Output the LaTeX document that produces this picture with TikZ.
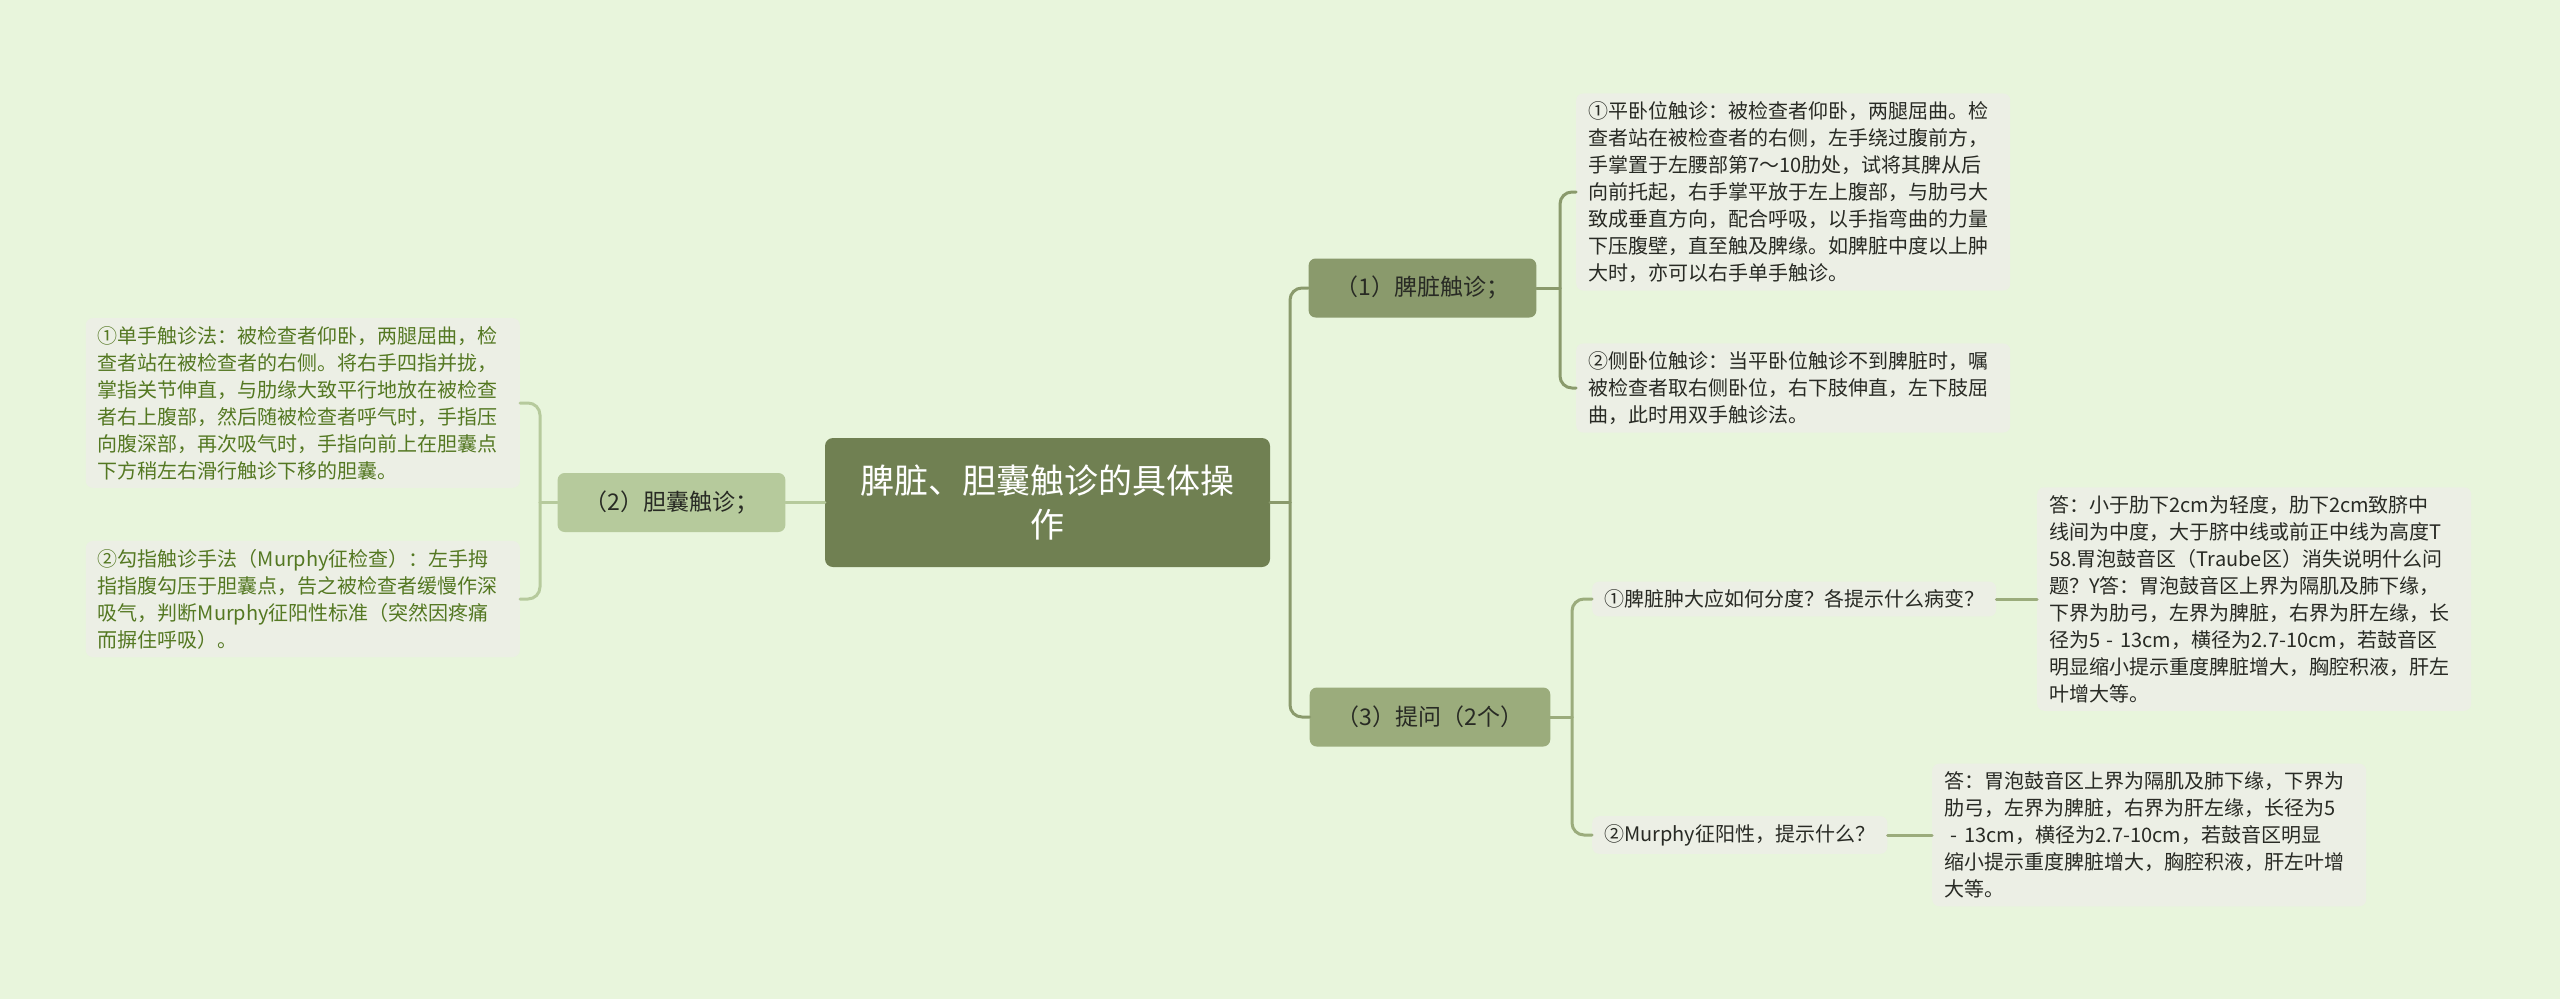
\documentclass[tikz,border=0pt]{standalone}
\usepackage{fontspec}
\setmainfont{Noto Sans CJK SC}
\usepackage{tikz}
\usepackage{xcolor}
\definecolor{bgc}{RGB}{232,245,220}
\definecolor{rootc}{RGB}{112,128,82}
\definecolor{bonec}{RGB}{138,154,108}
\definecolor{btwoc}{RGB}{182,202,156}
\definecolor{bthreec}{RGB}{155,172,124}
\definecolor{leafc}{RGB}{236,239,229}
\definecolor{txtc}{RGB}{40,42,36}
\definecolor{lefttxt}{RGB}{84,120,34}

\begin{document}
\begin{tikzpicture}[x=1pt,y=-1pt,line cap=round,
  topic/.style={rounded corners=8pt,fill=rootc,text=white,font=\fontsize{34}{44}\selectfont,align=center,minimum width=445pt,minimum height=129pt,inner sep=0pt},
  branch/.style={rounded corners=7pt,text=txtc,font=\fontsize{23}{28}\selectfont,minimum height=59pt,inner xsep=27pt},
  leaf/.style={rounded corners=7pt,fill=leafc,text=txtc,font=\fontsize{20}{27}\selectfont,align=left,inner xsep=12pt,inner ysep=8pt},
  note/.style={leaf,text width=410pt},
  link/.style={line width=3pt,rounded corners=12pt}]
\useasboundingbox[fill=bgc] (0,0) rectangle (2560,999);
% centre and the three branches
\node[topic] (root) at (1047.5,502.5) {脾脏、胆囊触诊的具体操\\作};
\node[branch,fill=bonec] (n1) at (1422.5,288) {（1）脾脏触诊；};
\node[branch,fill=btwoc] (n2) at (671.5,502.5) {（2）胆囊触诊；};
\node[branch,fill=bthreec] (n3) at (1430,717) {（3）提问（2个）};
% spleen
\node[note,anchor=west] (s1) at (1576,192) {①平卧位触诊：被检查者仰卧，两腿屈曲。检\\
查者站在被检查者的右侧，左手绕过腹前方，\\
手掌置于左腰部第7～10肋处，试将其脾从后\\
向前托起，右手掌平放于左上腹部，与肋弓大\\
致成垂直方向，配合呼吸，以手指弯曲的力量\\
下压腹壁，直至触及脾缘。如脾脏中度以上肿\\
大时，亦可以右手单手触诊。};
\node[note,anchor=west] (s2) at (1576,388) {②侧卧位触诊：当平卧位触诊不到脾脏时，嘱\\
被检查者取右侧卧位，右下肢伸直，左下肢屈\\
曲，此时用双手触诊法。};
% questions
\node[leaf,anchor=west] (q1) at (1592,599) {①脾脏肿大应如何分度？各提示什么病变？};
\node[note,anchor=west] (a1) at (2037,599) {答：小于肋下2cm为轻度，肋下2cm致脐中\\
线间为中度，大于脐中线或前正中线为高度T\\
58.胃泡鼓音区（Traube区）消失说明什么问\\
题？Y答：胃泡鼓音区上界为隔肌及肺下缘，\\
下界为肋弓，左界为脾脏，右界为肝左缘，长\\
径为5 - 13cm，横径为2.7-10cm，若鼓音区\\
明显缩小提示重度脾脏增大，胸腔积液，肝左\\
叶增大等。};
\node[leaf,anchor=west] (q2) at (1592,835) {②Murphy征阳性，提示什么？};
\node[note,anchor=west] (a2) at (1932,835) {答：胃泡鼓音区上界为隔肌及肺下缘，下界为\\
肋弓，左界为脾脏，右界为肝左缘，长径为5\\
\ - 13cm，横径为2.7-10cm，若鼓音区明显\\
缩小提示重度脾脏增大，胸腔积液，肝左叶增\\
大等。};
% gallbladder
\node[note,anchor=east,text=lefttxt] (l1) at (520,403) {①单手触诊法：被检查者仰卧，两腿屈曲，检\\
查者站在被检查者的右侧。将右手四指并拢，\\
掌指关节伸直，与肋缘大致平行地放在被检查\\
者右上腹部，然后随被检查者呼气时，手指压\\
向腹深部，再次吸气时，手指向前上在胆囊点\\
下方稍左右滑行触诊下移的胆囊。};
\node[note,anchor=east,text=lefttxt] (l2) at (520,599) {②勾指触诊手法（Murphy征检查）：左手拇\\
指指腹勾压于胆囊点，告之被检查者缓慢作深\\
吸气，判断Murphy征阳性标准（突然因疼痛\\
而摒住呼吸）。};
% connectors
\coordinate (jr) at (1290,502.5);
\coordinate (j1) at (1560,288);
\coordinate (j3) at (1572,717);
\coordinate (jl) at (540,502.5);
\draw[link,bonec] (root.east) -- (jr);
\draw[link,bonec] (jr) |- (n1.west);
\draw[link,bonec] (jr) |- (n3.west);
\draw[link,bonec] (n1.east) -- (j1);
\draw[link,bonec] (j1) |- (s1.west);
\draw[link,bonec] (j1) |- (s2.west);
\draw[link,bthreec] (n3.east) -- (j3);
\draw[link,bthreec] (j3) |- (q1.west);
\draw[link,bthreec] (j3) |- (q2.west);
\draw[link,bthreec] (q1.east) -- (a1.west);
\draw[link,bthreec] (q2.east) -- (a2.west);
\draw[link,btwoc] (root.west) -- (n2.east);
\draw[link,btwoc] (n2.west) -- (jl);
\draw[link,btwoc] (jl) |- (l1.east);
\draw[link,btwoc] (jl) |- (l2.east);
\end{tikzpicture}
\end{document}
